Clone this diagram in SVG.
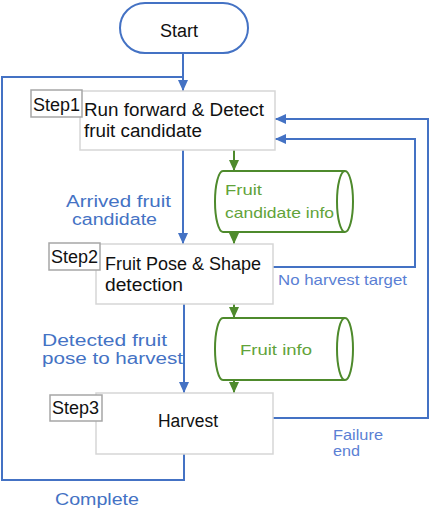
<svg xmlns="http://www.w3.org/2000/svg" width="432" height="510" viewBox="0 0 432 510">
<style>
text{font-family:"Liberation Sans","Noto Sans",Arial,sans-serif;}
.box{fill:#fff;stroke:#d6d6d6;stroke-width:1.5;}
.lbl{fill:#fff;stroke:#a6a6a6;stroke-width:1.5;}
.blk{fill:#111;font-size:18px;}
.bl{fill:none;stroke:#4472C4;stroke-width:2;}
.gr{fill:none;stroke:#4e8a2c;stroke-width:2;}
.bt{fill:#4472C4;font-size:16px;}
.bs{fill:#5b7fd4;font-size:15px;}
.gt{fill:#62a33a;font-size:15px;}
</style>
<defs>
<marker id="ab" markerUnits="userSpaceOnUse" markerWidth="12" markerHeight="12" viewBox="0 0 12 12" refX="11" refY="6" orient="auto"><path d="M0,1 L11,6 L0,11 Z" fill="#4472C4"/></marker>
<marker id="ag" markerUnits="userSpaceOnUse" markerWidth="12" markerHeight="12" viewBox="0 0 12 12" refX="11" refY="6" orient="auto"><path d="M0,1 L11,6 L0,11 Z" fill="#4e8a2c"/></marker>
</defs>
<g id="connectors">
<line class="bl" x1="183" y1="53" x2="183" y2="91" marker-end="url(#ab)"/>
<polyline class="bl" points="184,454 184,480 2,480 2,77 183,77"/>
<line class="bl" x1="183" y1="150" x2="183" y2="244" marker-end="url(#ab)"/>
<line class="bl" x1="184" y1="304" x2="184" y2="393" marker-end="url(#ab)"/>
<polyline class="bl" points="273,418 428,418 428,119 275,119" marker-end="url(#ab)"/>
<polyline class="bl" points="273,267 415,267 415,139 275,139" marker-end="url(#ab)"/>
<line class="gr" x1="234" y1="150" x2="234" y2="171" marker-end="url(#ag)"/>
<line class="gr" x1="234" y1="232" x2="234" y2="244" marker-end="url(#ag)"/>
<line class="gr" x1="234" y1="304" x2="234" y2="318" marker-end="url(#ag)"/>
<line class="gr" x1="234" y1="380" x2="234" y2="393" marker-end="url(#ag)"/>
<text class="bt" x="66" y="207" textLength="105" lengthAdjust="spacingAndGlyphs">Arrived fruit</text>
<text class="bt" x="72" y="225" textLength="85" lengthAdjust="spacingAndGlyphs">candidate</text>
<text class="bt" x="42" y="346" textLength="125" lengthAdjust="spacingAndGlyphs">Detected fruit</text>
<text class="bt" x="42" y="364" textLength="141" lengthAdjust="spacingAndGlyphs">pose to harvest</text>
<text class="bt" x="55" y="505" font-size="19" textLength="84" lengthAdjust="spacingAndGlyphs">Complete</text>
<text class="bs" x="278" y="285" textLength="129" lengthAdjust="spacingAndGlyphs">No harvest target</text>
<text class="bs" x="333" y="440" textLength="50" lengthAdjust="spacingAndGlyphs">Failure</text>
<text class="bs" x="333" y="456" textLength="27" lengthAdjust="spacingAndGlyphs">end</text>
</g>
<g id="start">
<rect x="120" y="3" width="128" height="50" rx="25" ry="25" fill="#fff" stroke="#4472C4" stroke-width="2"/>
<text class="blk" x="179" y="37" font-size="17" text-anchor="middle">Start</text>
</g>
<g id="step1">
<rect class="box" x="80" y="91" width="195" height="59"/>
<rect class="lbl" x="31" y="90" width="51" height="27"/>
<text class="blk" x="33" y="111" font-size="17" textLength="47" lengthAdjust="spacingAndGlyphs">Step1</text>
<text class="blk" x="84" y="116" textLength="180" lengthAdjust="spacingAndGlyphs">Run forward &amp; Detect</text>
<text class="blk" x="84" y="137" textLength="118" lengthAdjust="spacingAndGlyphs">fruit candidate</text>
</g>
<g id="candidate-info">
<path d="M223,171 L345,171 A8,30.5 0 0 1 345,232 L223,232 A8,30.5 0 0 1 223,171 Z" fill="#fff" stroke="#4e8a2c" stroke-width="2"/>
<path d="M345,171 A8,30.5 0 0 0 345,232" fill="none" stroke="#4e8a2c" stroke-width="2"/>
<text class="gt" x="225" y="195" textLength="37" lengthAdjust="spacingAndGlyphs">Fruit</text>
<text class="gt" x="225" y="218" textLength="109" lengthAdjust="spacingAndGlyphs">candidate info</text>
</g>
<g id="step2">
<rect class="box" x="96" y="244" width="177" height="60"/>
<rect class="lbl" x="49" y="243" width="51" height="27"/>
<text class="blk" x="51" y="263" font-size="17" textLength="47" lengthAdjust="spacingAndGlyphs">Step2</text>
<text class="blk" x="105" y="270" textLength="156" lengthAdjust="spacingAndGlyphs">Fruit Pose &amp; Shape</text>
<text class="blk" x="105" y="291" textLength="78" lengthAdjust="spacingAndGlyphs">detection</text>
</g>
<g id="fruit-info">
<path d="M223,318 L345,318 A8,31 0 0 1 345,380 L223,380 A8,31 0 0 1 223,318 Z" fill="#fff" stroke="#4e8a2c" stroke-width="2"/>
<path d="M345,318 A8,31 0 0 0 345,380" fill="none" stroke="#4e8a2c" stroke-width="2"/>
<text class="gt" x="240" y="355" font-size="17" textLength="72" lengthAdjust="spacingAndGlyphs">Fruit info</text>
</g>
<g id="step3">
<rect class="box" x="96" y="393" width="177" height="61"/>
<rect class="lbl" x="50" y="395" width="52" height="26"/>
<text class="blk" x="52" y="414" font-size="17" textLength="47" lengthAdjust="spacingAndGlyphs">Step3</text>
<text class="blk" x="158" y="427" textLength="60" lengthAdjust="spacingAndGlyphs">Harvest</text>
</g>
</svg>
